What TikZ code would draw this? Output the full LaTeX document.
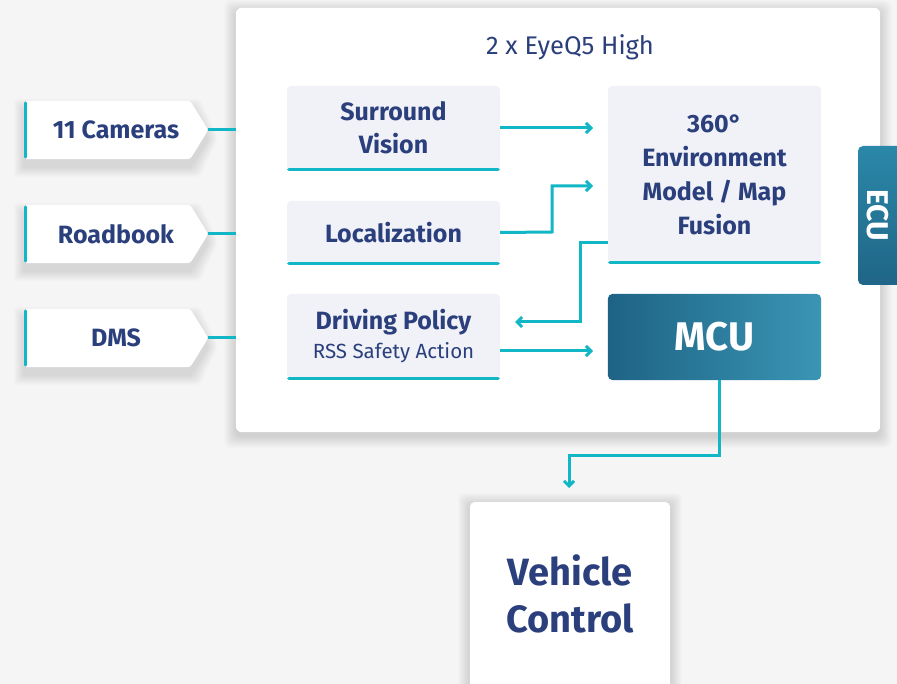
\documentclass[tikz,border=0pt]{standalone}
\usepackage{fontspec}
\setmainfont{Fira Sans}
\usetikzlibrary{arrows.meta,calc,backgrounds}
\pgfdeclarelayer{bottom}
\pgfsetlayers{bottom,background,main}
\definecolor{bgc}{HTML}{F5F5F5}
\definecolor{tealc}{HTML}{12B7C6}
\definecolor{navy}{HTML}{2A3F7C}
\definecolor{boxfill}{HTML}{F0F2F8}
\definecolor{mcuL}{HTML}{1E6385}
\definecolor{mcuR}{HTML}{3A95B4}
\definecolor{ecuT}{HTML}{2B88A8}
\definecolor{ecuB}{HTML}{1F6587}
\tikzset{
  txt/.style={text=navy, font=\bfseries\fontsize{25}{30}\selectfont, align=center, inner sep=0pt},
  innerbox/.style={txt, fill=boxfill, rounded corners=4pt, minimum width=213pt},
  tab/.style={txt, minimum width=184pt, minimum height=58pt},
  conn/.style={draw=tealc, line width=3pt},
  arr/.style={conn, -{Straight Barb[length=5pt,width=10pt,line width=3pt]}},
  under/.style={draw=tealc, line width=3.2pt, line cap=round},
  softshadow/.style={fill=black, opacity=0.012},
}
\begin{document}
\begin{tikzpicture}[x=1pt,y=-1pt]
\useasboundingbox (0,0) rectangle (897,684);
\begin{pgfonlayer}{bottom}
\fill[bgc] (0,0) rectangle (897,684);
\end{pgfonlayer}

% main panel
\node[minimum width=644pt, minimum height=424pt, inner sep=0pt] (panel) at (558,220) {};
\begin{pgfonlayer}{bottom}
\foreach \s in {1,2,...,12}{
  \fill[softshadow, rounded corners=8pt] ($(panel.north west)+(-\s,-\s+4)$) rectangle ($(panel.south east)+(\s,\s+4)$);
}
\fill[white, rounded corners=6pt] (panel.north west) rectangle (panel.south east);
\end{pgfonlayer}
\node[text=navy, font=\fontsize{25.5}{30}\selectfont, inner sep=0pt] (title) at (570,47) {2 x EyeQ5 High};

% input tabs
\node[tab] (cam) at (116,130) {11 Cameras};
\node[tab] (road) at (116,234) {Roadbook};
\node[tab] (dms) at (116,338) {DMS};
\begin{pgfonlayer}{background}
\foreach \n in {cam,road,dms}{
  \foreach \s in {1,2,...,10}{
    \fill[softshadow, rounded corners=4pt] ($(\n.north west)+(-\s,-\s+8)$) -- ($(\n.north east)+(-18+\s,-\s+8)$) -- ($(\n.east)+(\s,8)$) -- ($(\n.south east)+(-18+\s,\s+8)$) -- ($(\n.south west)+(-\s,\s+8)$) -- cycle;
  }
  \fill[white, rounded corners=3pt] (\n.north west) -- ($(\n.north east)+(-18,0)$) -- (\n.east) -- ($(\n.south east)+(-18,0)$) -- (\n.south west) -- cycle;
  \draw[tealc, line width=3pt, line cap=round] ($(\n.north west)+(1.5,2)$) -- ($(\n.south west)+(1.5,-2)$);
}
\end{pgfonlayer}
\draw[conn] (cam.east) -- (cam.east -| panel.west);
\draw[conn] (road.east) -- (road.east -| panel.west);
\draw[conn] (dms.east) -- (dms.east -| panel.west);

% inner boxes
\node[innerbox, minimum height=84pt] (sv) at (393.5,128) {Surround\\[3pt]Vision};
\node[innerbox, minimum height=63pt] (loc) at (393.5,232.5) {Localization};
\node[innerbox, minimum height=85pt] (dp) at (393.5,336.5) {Driving Policy\\[-1pt]{\mdseries\fontsize{20.5}{24}\selectfont RSS Safety Action}};
\node[innerbox, minimum height=177pt] (env) at (714.5,174.5) {360°\\[4pt]Environment\\[4pt]Model / Map\\[4pt]Fusion};
\foreach \n in {sv,loc,dp,env}{
  \draw[under] ($(\n.south west)+(2,-1)$) -- ($(\n.south east)+(-2,-1)$);
}

% MCU
\node[minimum width=213pt, minimum height=86pt, inner sep=0pt, text=white,
      font=\bfseries\fontsize{40}{46}\selectfont] (mcu) at (714.5,337) {MCU};
\begin{pgfonlayer}{background}
\shade[left color=mcuL, right color=mcuR, rounded corners=5pt] (mcu.north west) rectangle (mcu.south east);
\end{pgfonlayer}

% ECU tab
\node[minimum width=139pt, minimum height=39pt, inner sep=0pt, text=white, rotate=-90,
      font=\bfseries\fontsize{30}{34}\selectfont] (ecu) at (877.5,215.5) {ECU};
\begin{pgfonlayer}{background}
\shade[top color=ecuT, bottom color=ecuB, rounded corners=5pt] (858,146) rectangle (905,285);
\end{pgfonlayer}

% Vehicle control
\node[minimum width=200pt, minimum height=190pt, inner sep=0pt, anchor=north] (vc) at (570,502) {};
\begin{pgfonlayer}{bottom}
\foreach \s in {1,2,...,12}{
  \fill[softshadow, rounded corners=6pt] ($(vc.north west)+(-\s,-\s+3)$) rectangle ($(vc.south east)+(\s,\s)$);
}
\fill[white, rounded corners=5pt] (vc.north west) rectangle (vc.south east);
\end{pgfonlayer}
\node[txt, font=\bfseries\fontsize{38}{45}\selectfont] (vct) at (570,594) {Vehicle\\[2pt]Control};

% connectors
\coordinate (envin1) at (593,128);
\coordinate (envin2) at (593,186);
\draw[arr] (sv.east |- envin1) -- (envin1);
\draw[arr] (loc.east) -- (552,232) |- (envin2);
\draw[arr] (env.west |- 0,243) -- (580,243) |- (515,322);
\draw[arr] (dp.east |- 0,351) -- (593,351);
\coordinate (vcin) at (569,488);
\draw[arr] (mcu.south -| 719,0) -- (719,455) -| (vcin);
\end{tikzpicture}
\end{document}
